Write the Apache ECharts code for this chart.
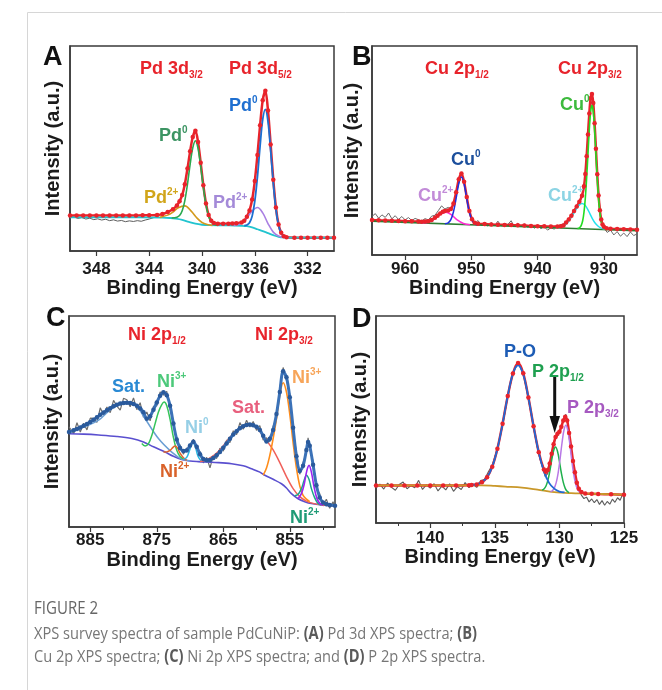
<!DOCTYPE html>
<html>
<head>
<meta charset="utf-8">
<script src="https://cdn.jsdelivr.net/npm/echarts@6/dist/echarts.min.js"></script>
<style>
  html, body { margin: 0; padding: 0; background: #fff; }
  #xps { width: 662px; height: 690px; }
</style>
</head>
<body>
<div id="xps"></div>
<script>
// ---------- (A) Pd 3d : [binding energy, intensity a.u.] ----------
var pdTicks = [348, 344, 340, 336, 332];
var pdRaw = [[350,17.0],[349.7,16.6],[349.4,15.9],[349.1,16.3],[348.8,15.6],[348.5,16.0],[348.2,15.3],[347.9,15.7],[347.6,15.1],[347.3,15.5],[347.0,14.8],[346.7,15.2],[346.4,14.6],[346.1,14.9],[345.8,14.3],[345.5,14.7],[345.2,14.4],[344.9,14.8],[344.6,14.5],[344.3,15.1],[344.0,15.6],[343.7,16.2],[343.4,17.0],[343.1,17.8],[342.8,18.6]];
var pdFit = [[350,17.3],[349.5,17.3],[349,17.3],[348.5,17.3],[348,17.3],[347.5,17.3],[347,17.3],[346.5,17.3],[346,17.3],[345.5,17.3],[345,17.35],[344.5,17.4],[344,17.4],[343.4,17.6],[343,18.0],[342.6,19.0],[342.2,20.4],[341.9,22.2],[341.7,24.3],[341.5,27.3],[341.3,32.6],[341.1,40.2],[340.9,48.6],[340.7,55.6],[340.5,58.6],[340.3,53.2],[340.1,43.0],[339.9,32.1],[339.7,23.2],[339.5,17.6],[339.3,14.8],[339.1,13.6],[338.8,13.3],[338.4,13.3],[338.0,13.3],[337.7,13.4],[337.4,13.5],[337.0,13.9],[336.8,14.7],[336.6,16.7],[336.4,19.8],[336.2,25.1],[336.0,34.1],[335.8,46.8],[335.6,61.3],[335.4,73.5],[335.2,78.2],[335.0,68.5],[334.8,52.0],[334.6,34.8],[334.4,21.2],[334.2,12.9],[334.0,8.9],[333.8,7.2],[333.6,6.7],[333.0,6.5],[332.5,6.5],[332,6.5],[331.5,6.5],[331,6.5],[330.5,6.5],[330,6.5]];
var pdBg = [[350,16.4],[345,16.4],[343,16.3],[342.4,16.1],[342,15.8],[341.5,15.2],[341,14.2],[340.5,13.3],[340,12.8],[339.5,12.6],[338,12.5],[337,12.3],[336.6,12.1],[336.2,11.5],[335.8,10.6],[335.4,9.7],[335,8.7],[334.6,7.7],[334.2,6.9],[333.8,6.6],[333,6.5],[330,6.5]];
var pdGreen = [[342.3,16.1],[341.9,16.5],[341.7,17.3],[341.5,19.6],[341.3,24.6],[341.1,32.6],[340.9,42.2],[340.7,50.3],[340.5,53.8],[340.3,50.0],[340.1,41.3],[339.9,31.1],[339.7,22.6],[339.5,17.0],[339.3,14.2],[339.1,13.0],[338.8,12.5]];
var pdGold = [[343.2,16.4],[342.6,17.5],[342.2,19.0],[341.8,21.1],[341.3,22.0],[340.8,19.3],[340.4,16.2],[340.0,13.9],[339.6,12.9],[339.2,12.5]];
var pdBlue = [[336.8,12.4],[336.6,12.7],[336.4,13.8],[336.2,17.0],[336.0,24.3],[335.8,36.2],[335.6,51.1],[335.4,64.2],[335.2,69.1],[335.0,63.1],[334.8,49.1],[334.6,33.2],[334.4,20.4],[334.2,12.5],[334.0,8.7],[333.8,7.2],[333.6,6.6]];
var pdPurple = [[337.6,12.4],[337.0,13.5],[336.6,16.1],[336.2,19.5],[335.8,21.2],[335.4,18.6],[335.0,13.4],[334.6,9.2],[334.2,7.3],[333.8,6.6]];

// ---------- (B) Cu 2p ----------
var cuTicks = [960, 950, 940, 930];
var cuRaw = [[965,18.5],[964.5,19.8],[964,17.6],[963.5,19.2],[963,18.0],[962.5,20.1],[962,17.3],[961.5,18.8],[961,17.0],[960.5,18.4],[960,16.8],[959.5,17.9],[959,16.5],[958.5,17.5],[958,16.9],[957.5,16.3],[957,17.4],[956.5,16.8],[956,18.6],[955.5,19.0],[955,21.2],[954.5,23.5],[954,22.0],[953.5,22.8],[953,21.5],[952.5,26.5],[952,33.0],[951.5,39.5],[951,33.5],[950.5,24.0],[950,18.0],[949.5,15.0],[949,16.5],[948.5,14.2],[948,15.3],[947.5,13.8],[947,15.6],[946.5,14.0],[946,16.2],[945.5,13.9],[945,15.0],[944.5,14.6],[944,16.4],[943.5,13.5],[943,15.2],[942.5,13.8],[942,14.9],[941.5,13.2],[941,14.3],[940.5,12.8],[940,14.0],[939.5,12.6],[939,13.5],[938.5,11.9],[938,13.0],[937.5,12.4],[937,13.8],[936.5,14.5],[936,15.0],[935.5,16.5],[935,17.8],[934.5,21.0],[934,23.5],[933.5,26.5],[933,32.0],[932.5,52.0],[932,74.0],[931.5,70.0],[931,38.0],[930.5,19.0],[930,13.0],[929.5,10.8],[929,11.9],[928.5,9.6],[928,11.2],[927.5,9.0],[927,10.5],[926.5,8.8],[926,11.0],[925.5,9.3],[925,10.1]];
var cuFit = [[965,16.7],[964,16.6],[963,16.5],[962,16.4],[961,16.3],[960,16.2],[959,16.1],[958,16.0],[957.5,15.9],[957,16.0],[956.5,16.2],[956,16.8],[955.5,17.8],[955.1,18.8],[954.7,19.9],[954.3,20.7],[954.0,21.1],[953.5,21.3],[953.1,22.0],[952.7,24.7],[952.3,30.0],[951.9,36.2],[951.5,39.0],[951.1,35.0],[950.7,27.7],[950.3,21.0],[949.9,17.1],[949.5,15.4],[949.0,14.9],[948,14.8],[947,14.6],[946,14.5],[945,14.4],[944,14.3],[943,14.2],[942,14.1],[941,13.9],[940,13.8],[939,13.7],[938,13.6],[937,13.6],[936.5,13.7],[936.1,14.1],[935.7,15.5],[935.3,17.0],[934.9,18.8],[934.5,21.0],[934.1,23.2],[933.7,25.5],[933.3,28.4],[933.0,32.9],[932.8,38.7],[932.6,47.3],[932.4,57.6],[932.2,67.7],[932.0,75.0],[931.8,77.0],[931.6,72.7],[931.4,63.0],[931.2,50.8],[931.0,38.6],[930.8,28.5],[930.6,21.4],[930.4,17.0],[930.2,14.6],[930.0,13.5],[929.6,12.75],[929,12.6],[928,12.45],[927,12.35],[926,12.2],[925,12.1]];
var cuBg = [[965,16.2],[945,13.9],[925,11.6]];
var cuMagenta = [[957.5,15.35],[956.5,15.7],[955.5,17.3],[954.7,19.4],[953.85,20.5],[953.0,19.2],[952.2,16.9],[951.2,15.1],[950.2,14.5]];
var cuBlue = [[954.0,15.0],[953.5,15.4],[953.1,16.9],[952.7,20.7],[952.3,27.1],[951.9,34.2],[951.5,37.3],[951.1,34.1],[950.7,27.0],[950.3,20.4],[949.9,16.6],[949.5,14.9],[949.0,14.4]];
var cuCyan = [[937.0,13.0],[936.5,13.3],[936.1,13.9],[935.7,14.8],[935.3,16.3],[934.9,18.2],[934.5,20.3],[934.1,22.3],[933.7,24.0],[933.3,24.7],[932.9,24.0],[932.5,22.2],[932.1,19.7],[931.7,17.2],[931.3,15.2],[930.9,13.9],[930.5,13.0],[930.1,12.5],[929.6,12.2]];
var cuGreen = [[934.0,12.7],[933.8,12.8],[933.6,13.3],[933.4,14.3],[933.2,16.4],[933.0,20.5],[932.8,27.3],[932.6,36.9],[932.4,48.4],[932.2,59.9],[932.0,68.5],[931.8,71.7],[931.6,68.5],[931.4,59.8],[931.2,48.3],[931.0,36.7],[930.8,27.1],[930.6,20.3],[930.4,16.1],[930.2,13.9],[930.0,12.9],[929.8,12.4],[929.5,12.2]];

// ---------- (C) Ni 2p ----------
var niTicks = [885, 875, 865, 855];
var niMinor = [880, 870, 860, 850];
var niRaw = [[888.2,47.5],[887.5,44.2],[887,49.4],[886.5,45.0],[886,49.2],[885.5,46.0],[885,51.6],[884.5,51.5],[884,49.6],[883.5,56.5],[883,53.1],[882.5,56.9],[882,54.2],[881.5,60.0],[881,57.3],[880.5,55.4],[880,61.0],[879.5,60.3],[879,57.0],[878.5,61.2],[878,55.6],[877.5,58.9],[877,52.0],[876.5,54.5],[876,50.3],[875.5,57.2],[875,57.4],[874.5,64.0],[874,62.5],[873.5,64.3],[873,55.8],[872.5,50.2],[872,39.8],[871.5,38.9],[871,34.5],[870.5,37.4],[870,37.2],[869.5,41.6],[869,36.5],[868.5,35.8],[868,30.4],[867.5,33.0],[867,28.0],[866.5,33.8],[866,32.5],[865.5,37.4],[865,36.0],[864.5,41.2],[864,40.0],[863.5,45.6],[863,43.8],[862.5,49.5],[862,46.3],[861.5,50.6],[861,47.4],[860.5,50.0],[860,45.8],[859.5,48.1],[859,41.2],[858.5,42.3],[858,40.3],[857.5,47.8],[857,52.0],[856.5,65.7],[856,75.6],[855.5,69.6],[855,62.9],[854.5,45.4],[854,35.4],[853.5,25.0],[853,30.6],[852.5,35.0],[852.25,42.3],[852,37.0],[851.5,31.2],[851,18.3],[850.5,15.8],[850,10.0],[849.5,13.2],[849,8.9],[848.5,12.0],[848.2,9.4]];
var niFit = [[888.2,45.0],[887.5,45.8],[887,46.5],[886.5,47.2],[886,48.0],[885.5,48.8],[885,49.8],[884.5,50.8],[884,52.0],[883.5,53.2],[883,54.3],[882.5,55.3],[882,56.3],[881.5,57.2],[881,57.9],[880.5,58.5],[880,58.8],[879.5,58.9],[879,58.8],[878.5,58.3],[878,57.5],[877.5,56.2],[877,54.4],[876.5,51.3],[876,52.5],[875.5,55.6],[875,59.0],[874.5,62.2],[874,63.9],[873.5,62.5],[873,57.5],[872.5,49.0],[872,41.5],[871.5,37.5],[871,36.0],[870.5,36.3],[870,38.6],[869.5,40.4],[869,38.0],[868.5,34.5],[868,32.2],[867.5,31.6],[867,31.8],[866.5,32.7],[866,34.0],[865.5,35.6],[865,37.6],[864.5,39.6],[864,41.8],[863.5,43.8],[863,45.4],[862.5,46.8],[862,47.8],[861.5,48.4],[861,48.6],[860.5,48.2],[860,47.5],[859.5,46.0],[859,43.2],[858.5,40.5],[858,41.8],[857.5,46.0],[857,53.5],[856.5,64.0],[856,73.8],[855.5,71.0],[855,61.5],[854.5,47.0],[854,33.5],[853.5,26.5],[853,29.0],[852.5,36.5],[852.25,40.3],[852,38.5],[851.5,29.5],[851,19.8],[850.5,14.0],[850,11.6],[849.5,10.8],[849,10.4],[848.2,10.1]];
var niBg = [[888.2,44.2],[886,44.0],[883.75,43.6],[881,42.9],[878.75,41.9],[877,40.3],[875.5,38.0],[873.75,35.5],[872.5,33.5],[871.25,32.0],[870,31.3],[868.75,31.0],[866.25,30.6],[863.75,30.0],[862,29.0],[860.75,27.6],[859.5,26.0],[858.75,24.5],[857.5,22.6],[856.25,20.5],[855.5,18.5],[854.75,15.8],[853.75,13.4],[852.75,12.0],[851.75,11.1],[850,10.4],[848.2,10.0]];
var niSatA = [[888.2,45.0],[886.25,47.0],[883.75,50.6],[881.75,56.1],[879.5,58.6],[878,57.0],[876.75,51.3],[874.75,41.9],[872.75,35.5],[871.25,32.2],[870,31.4]];
var niGreen3 = [[877.25,39.6],[876.75,38.4],[876.25,39.5],[875.75,43.4],[875.25,49.0],[874.75,54.5],[874.25,58.0],[873.9,59.2],[873.5,57.5],[873.0,51.0],[872.5,42.5],[872.0,36.4],[871.5,33.4],[871.0,32.2]];
var niOrange2 = [[874,35.5],[873.5,35.6],[873,36.3],[872.6,37.6],[872.25,38.4],[871.9,37.5],[871.5,35.0],[871,32.8],[870.5,31.6]];
var niCyan0 = [[871,32.0],[870.5,33.0],[870.0,37.0],[869.6,40.2],[869.2,38.0],[868.8,33.5],[868.3,31.2]];
var niSatB = [[868.5,31.0],[867.75,31.5],[866.75,33.2],[865.75,35.8],[864.75,39.5],[863.75,43.4],[862.25,47.4],[861,48.5],[860,47.2],[859.25,44.2],[858.25,40.0],[857.5,36.5],[856.5,30.5],[855.5,23.9],[854.5,18.2],[853.5,14.4],[852.5,12.3],[851.5,11.2],[850,10.4],[848.2,10.0]];
var niOrange3 = [[859,24.6],[858.5,28.0],[858,34.0],[857.5,42.0],[857,51.3],[856.5,62.4],[856,68.4],[855.5,64.0],[855,53.5],[854.5,40.0],[854,28.0],[853.5,19.5],[853,15.0],[852.5,13.2],[852,12.0]];
var niTeal2 = [[854.25,14.8],[853.75,15.5],[853.25,18.2],[852.85,22.0],[852.5,24.5],[852.1,22.5],[851.75,18.2],[851.25,13.8],[850.75,11.2],[850.25,10.4]];
var niViolet = [[853.75,13.4],[853.25,15.8],[852.85,20.0],[852.45,26.5],[852.1,29.2],[851.75,26.0],[851.35,19.0],[850.95,13.8],[850.5,11.2],[850,10.4]];

// ---------- (D) P 2p ----------
var pTicks = [140, 135, 130, 125];
var pMinor = [142.5, 137.5, 132.5, 127.5];
var pRaw = [[144.2,17.0],[143.9,18.8],[143.6,16.4],[143.3,19.3],[143.0,17.2],[142.7,15.8],[142.4,18.6],[142.1,19.8],[141.8,16.5],[141.5,18.1],[141.2,17.0],[140.9,20.6],[140.6,16.2],[140.3,18.4],[140.0,16.9],[139.7,19.0],[139.4,15.5],[139.1,17.8],[138.8,16.0],[138.5,18.9],[138.2,15.3],[137.9,17.6],[137.6,16.2],[137.3,19.5],[137.0,17.1],[136.7,18.6],[136.4,17.2],[136.1,20.5],[135.8,21.0],[135.5,24.8],[135.2,28.0],[134.8,36.0],[134.4,47.0],[134.0,61.0],[133.6,72.5],[133.2,78.0],[132.8,72.5],[132.4,60.0],[132.0,46.0],[131.6,33.0],[131.3,26.8],[131.1,22.4],[130.9,24.0],[130.7,29.5],[130.5,37.0],[130.3,40.5],[130.1,42.5],[129.9,46.0],[129.7,49.5],[129.5,52.5],[129.3,46.0],[129.1,36.0],[128.9,26.0],[128.7,19.0],[128.5,16.0],[128.3,13.5],[128.1,11.8],[127.9,12.5],[127.7,10.2],[127.5,11.6],[127.3,9.8],[127.1,11.3],[126.9,9.0],[126.7,10.8],[126.5,8.6],[126.3,10.4],[126.1,9.1],[125.9,11.5],[125.7,10.0],[125.5,12.2],[125.3,11.0],[125.1,14.0],[125.0,15.0]];
var pFit = [[144.2,18.1],[143,18.1],[142,18.1],[141,18.1],[140,18.1],[139,18.1],[138,18.15],[137,18.2],[136.8,18.35],[136.4,18.65],[136.0,19.7],[135.6,22.1],[135.2,27.2],[134.8,35.9],[134.4,48.0],[134.0,61.4],[133.6,72.2],[133.2,77.3],[132.8,72.3],[132.4,60.6],[132.0,46.7],[131.6,34.2],[131.2,25.8],[131.05,24.7],[130.9,25.6],[130.75,28.7],[130.6,33.4],[130.45,38.1],[130.3,41.5],[130.15,43.1],[130.0,44.1],[129.85,46.5],[129.7,49.5],[129.55,51.3],[129.4,49.5],[129.25,43.5],[129.1,37.0],[128.95,30.0],[128.8,24.5],[128.65,19.5],[128.5,16.5],[128.3,15.0],[128.0,14.3],[127.5,14.1],[127,14.0],[126,13.85],[125,13.7]];
var pBg = [[144.2,18.2],[136,18.2],[135,17.9],[134.2,17.6],[132.9,17.1],[131.7,16.1],[130.4,14.9],[129.1,14.4],[127.8,14.2],[125,13.7]];
var pPO = [[136.8,18.35],[136.4,18.65],[136.0,19.7],[135.6,22.1],[135.2,27.2],[134.8,35.9],[134.4,47.95],[134.0,61.4],[133.6,72.15],[133.2,76.2],[132.8,71.75],[132.4,60.6],[132.0,46.65],[131.6,34.1],[131.2,24.95],[130.8,19.4],[130.4,16.6],[130.0,15.2],[129.6,14.75]];
var pGreen = [[131.35,15.85],[131.2,16.45],[131.05,17.75],[130.9,20.45],[130.75,24.8],[130.6,30.3],[130.45,34.85],[130.3,36.7],[130.15,34.65],[130.0,29.8],[129.85,24.15],[129.7,19.6],[129.55,16.75],[129.4,15.3],[129.25,14.7]];
var pViolet = [[130.7,15.15],[130.55,15.6],[130.4,16.85],[130.25,19.5],[130.1,24.15],[129.95,30.9],[129.8,38.65],[129.65,44.8],[129.5,47.25],[129.35,44.7],[129.2,38.45],[129.05,30.6],[128.9,23.8],[128.75,19.05],[128.6,16.3],[128.45,15.0],[128.3,14.5]];

var FONT = '"Liberation Sans", Arial, sans-serif';
var CAPFONT = '"Open Sans", sans-serif';
var INK = '#1b1b1b';
var FRAME = '#3a3a3a';

function xAx(g, min, max, ticks, margin, gap) {
  return {
    type: 'value', gridIndex: g, inverse: true, min: min, max: max,
    name: 'Binding Energy (eV)', nameLocation: 'middle', nameGap: gap,
    nameTextStyle: { fontFamily: FONT, fontWeight: 'bold', fontSize: 20, color: INK },
    axisLine: { show: true, onZero: false, lineStyle: { color: FRAME, width: 1.5 } },
    axisTick: { show: true, customValues: ticks, length: 5, lineStyle: { color: FRAME, width: 1.2 } },
    axisLabel: { customValues: ticks, margin: margin, fontFamily: FONT, fontWeight: 'bold', fontSize: 17, color: INK },
    splitLine: { show: false }
  };
}
function minorAx(g, min, max, ticks) {
  return {
    type: 'value', gridIndex: g, inverse: true, min: min, max: max, position: 'bottom',
    axisLine: { show: false },
    axisTick: { show: true, customValues: ticks, length: 3, lineStyle: { color: FRAME, width: 1 } },
    axisLabel: { show: false }, splitLine: { show: false }
  };
}
function yAx(g, gap) {
  return {
    type: 'value', gridIndex: g, min: 0, max: 100,
    name: 'Intensity (a.u.)', nameLocation: 'middle', nameGap: gap,
    nameTextStyle: { fontFamily: FONT, fontWeight: 'bold', fontSize: 20, color: INK },
    axisLine: { show: true, lineStyle: { color: FRAME, width: 1.5 } },
    axisTick: { show: false }, axisLabel: { show: false }, splitLine: { show: false }
  };
}
function ln(g, data, color, width, smooth) {
  return {
    type: 'line', xAxisIndex: g, yAxisIndex: g, data: data, showSymbol: false,
    smooth: smooth === undefined ? 0.35 : smooth, silent: true,
    lineStyle: { color: color, width: width }, itemStyle: { color: color }
  };
}
function dots(g, data, color, width, dotColor) {
  var s = ln(g, data, color, width, 0.3);
  s.showSymbol = true;
  s.symbol = 'circle';
  s.symbolSize = 4.5;
  s.itemStyle = { color: dotColor || color };
  return s;
}
function note(x, y, text, color, size) {
  size = size || 18;
  return {
    type: 'text', x: x, y: y, z: 100,
    style: {
      text: text, fill: color, fontFamily: FONT, fontWeight: 'bold', fontSize: size,
      align: 'left', verticalAlign: 'middle', lineHeight: size + 4,
      rich: {
        sup: { fontFamily: FONT, fontWeight: 'bold', fontSize: 10, fill: color, verticalAlign: 'top', lineHeight: 12 },
        sub: { fontFamily: FONT, fontWeight: 'bold', fontSize: 10, fill: color, verticalAlign: 'bottom', lineHeight: 12 }
      }
    }
  };
}
function letter(x, y, t) {
  return { type: 'text', x: x, y: y, z: 100,
    style: { text: t, fill: '#111', fontFamily: FONT, fontWeight: 'bold', fontSize: 27, verticalAlign: 'middle' } };
}
function caption(y, text, size, color) {
  return { type: 'text', x: 34, y: y, scaleX: 0.86, z: 100,
    style: { text: text, fontFamily: CAPFONT, fontSize: size, fill: color, verticalAlign: 'middle',
      rich: { b: { fontFamily: CAPFONT, fontWeight: 'bold', fontSize: size, fill: '#5a5a5a' } } } };
}

var RED = '#e8232b';

var chart = echarts.init(document.getElementById('xps'), null, { renderer: 'canvas' });
var option = {
  backgroundColor: '#ffffff',
  animation: false,
  grid: [
    { left: 70, top: 46, width: 264, height: 205, show: true, borderColor: FRAME, borderWidth: 1.5 },
    { left: 372, top: 46, width: 265, height: 209, show: true, borderColor: FRAME, borderWidth: 1.5 },
    { left: 69, top: 316, width: 266, height: 211, show: true, borderColor: FRAME, borderWidth: 1.5 },
    { left: 376, top: 316, width: 248, height: 207, show: true, borderColor: FRAME, borderWidth: 1.5 }
  ],
  xAxis: [
    xAx(0, 330, 350, pdTicks, 10, 27),
    xAx(1, 925, 965, cuTicks, 6, 23),
    xAx(2, 848.2, 888.2, niTicks, 5, 23),
    xAx(3, 125, 144.2, pTicks, 7, 22),
    minorAx(2, 848.2, 888.2, niMinor),
    minorAx(3, 125, 144.2, pMinor)
  ],
  yAxis: [yAx(0, 7), yAx(1, 10), yAx(2, 7), yAx(3, 6)],
  series: [
    // A
    ln(0, pdRaw, '#5c5c5c', 1, false),
    dots(0, pdFit, RED, 2.5),
    ln(0, pdBg, '#22c4cf', 1.8),
    ln(0, pdGold, '#d39a1d', 1.6),
    ln(0, pdGreen, '#2aa84e', 1.6),
    ln(0, pdPurple, '#a97fe2', 1.6),
    ln(0, pdBlue, '#1c6fd1', 1.8),
    // B
    ln(1, cuRaw, '#6a6a6a', 1, false),
    dots(1, cuFit, RED, 2.5),
    ln(1, cuBg, '#2e7d32', 1.6, false),
    ln(1, cuMagenta, '#ff2ad4', 1.5),
    ln(1, cuBlue, '#1e2ee0', 1.5),
    ln(1, cuCyan, '#22e3ee', 1.5),
    ln(1, cuGreen, '#22dd22', 1.6),
    // C
    ln(2, niRaw, '#6e6e6e', 1.2, false),
    ln(2, niBg, '#5a4fcf', 1.6),
    ln(2, niSatA, '#6b9fd4', 1.5),
    ln(2, niGreen3, '#35c45a', 1.5),
    ln(2, niOrange2, '#e0642b', 1.5),
    ln(2, niCyan0, '#29b6e0', 1.5),
    ln(2, niSatB, '#f0605a', 1.5),
    ln(2, niOrange3, '#ff8c1a', 1.6),
    ln(2, niTeal2, '#1aa58a', 1.5),
    ln(2, niViolet, '#9a24f0', 1.6),
    dots(2, niFit, '#3b72b8', 3, '#2a5a9c'),
    // D
    ln(3, pRaw, '#5c5c5c', 1.1, false),
    dots(3, pFit, RED, 2.5),
    ln(3, pBg, '#c9982a', 1.8),
    ln(3, pGreen, '#1fb04c', 1.5),
    ln(3, pViolet, '#b878e6', 1.5),
    ln(3, pPO, '#2168d4', 1.8)
  ],
  graphic: [
    { type: 'rect', shape: { x: 27.5, y: 12.5, width: 700, height: 700 }, style: { fill: 'none', stroke: '#d6d6d6', lineWidth: 1 }, z: -1 },
    letter(43, 58, 'A'), letter(352, 58, 'B'), letter(46, 319, 'C'), letter(352, 320, 'D'),
    // A
    note(140, 69, 'Pd 3d{sub|3/2}', RED),
    note(229, 69, 'Pd 3d{sub|5/2}', RED),
    note(159, 136, 'Pd{sup|0}', '#3c9463'),
    note(144, 198, 'Pd{sup|2+}', '#d1a51a'),
    note(213, 203, 'Pd{sup|2+}', '#a48ad8'),
    note(229, 106, 'Pd{sup|0}', '#1f6fd0'),
    // B
    note(425, 69, 'Cu 2p{sub|1/2}', RED),
    note(558, 69, 'Cu 2p{sub|3/2}', RED),
    note(560, 105, 'Cu{sup|0}', '#3dba3d'),
    note(451, 160, 'Cu{sup|0}', '#1c4f9c'),
    note(418, 196, 'Cu{sup|2+}', '#c28bd8'),
    note(548, 196, 'Cu{sup|2+}', '#8cd4e4'),
    // C
    note(128, 335, 'Ni 2p{sub|1/2}', RED),
    note(255, 335, 'Ni 2p{sub|3/2}', RED),
    note(112, 387, 'Sat.', '#2a8ad4'),
    note(157, 382, 'Ni{sup|3+}', '#4cc97a'),
    note(185, 428, 'Ni{sup|0}', '#96cfe6'),
    note(160, 472, 'Ni{sup|2+}', '#d9622a'),
    note(232, 408, 'Sat.', '#e8607e'),
    note(292, 378, 'Ni{sup|3+}', '#f7a55a'),
    note(290, 518, 'Ni{sup|2+}', '#1f9b76'),
    // D
    note(504, 352, 'P-O', '#1d5cb5'),
    note(532, 372, 'P 2p{sub|1/2}', '#1fa050'),
    note(567, 408, 'P 2p{sub|3/2}', '#a659c0'),
    { type: 'rect', shape: { x: 553.2, y: 377, width: 3, height: 41 }, style: { fill: '#111' }, z: 100 },
    { type: 'polygon', shape: { points: [[549.5, 416], [560, 416], [554.7, 433]] }, style: { fill: '#111' }, z: 100 },
    // caption
    caption(609, 'FIGURE 2', 17.5, '#666666'),
    caption(634, 'XPS survey spectra of sample PdCuNiP: {b|(A)} Pd 3d XPS spectra; {b|(B)}', 17, '#767676'),
    caption(657, 'Cu 2p XPS spectra; {b|(C)} Ni 2p XPS spectra; and {b|(D)} P 2p XPS spectra.', 17, '#767676')
  ]
};
chart.setOption(option);
</script>
</body>
</html>
